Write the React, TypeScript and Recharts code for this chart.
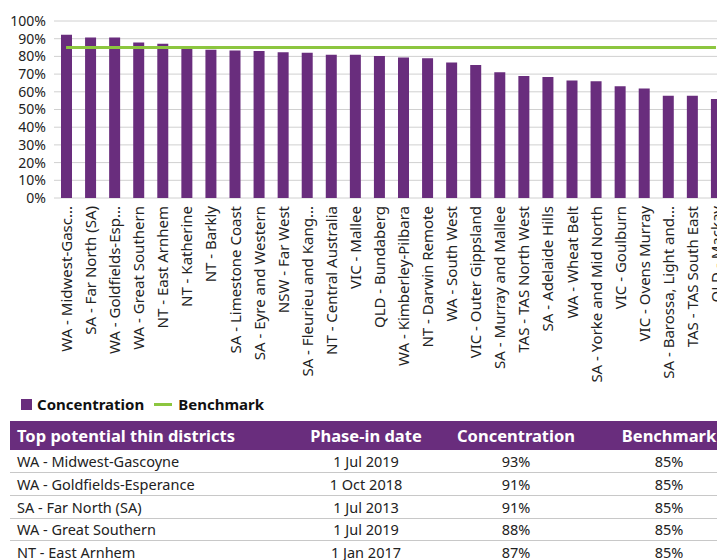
import React from 'react';
import { ComposedChart, Bar, Line, XAxis, YAxis, CartesianGrid } from 'recharts';

const categories = [
  'WA - Midwest-Gasc...',
  'SA - Far North (SA)',
  'WA - Goldfields-Esp...',
  'WA - Great Southern',
  'NT - East Arnhem',
  'NT - Katherine',
  'NT - Barkly',
  'SA - Limestone Coast',
  'SA - Eyre and Western',
  'NSW - Far West',
  'SA - Fleurieu and Kang...',
  'NT - Central Australia',
  'VIC - Mallee',
  'QLD - Bundaberg',
  'WA - Kimberley-Pilbara',
  'NT - Darwin Remote',
  'WA - South West',
  'VIC - Outer Gippsland',
  'SA - Murray and Mallee',
  'TAS - TAS North West',
  'SA - Adelaide Hills',
  'WA - Wheat Belt',
  'SA - Yorke and Mid North',
  'VIC - Goulburn',
  'VIC - Ovens Murray',
  'SA - Barossa, Light and...',
  'TAS - TAS South East',
  'QLD - Mackay',
];

const concentration = [
  92.3, 90.7, 90.7, 87.9, 87.2, 84.2, 83.8, 83.4, 83.0, 82.4, 82.1, 81.0, 81.0, 80.2,
  79.4, 78.9, 76.6, 75.1, 71.1, 68.9, 68.3, 66.4, 66.0, 63.2, 61.8, 57.8, 57.8, 55.9,
];

const benchmark = 85;

const yTicks = [0, 10, 20, 30, 40, 50, 60, 70, 80, 90, 100];

const tableHeaders = ['Top potential thin districts', 'Phase-in date', 'Concentration', 'Benchmark'];
const tableDistricts = [
  'WA - Midwest-Gascoyne',
  'WA - Goldfields-Esperance',
  'SA - Far North (SA)',
  'WA - Great Southern',
  'NT - East Arnhem',
];
const tableDates = ['1 Jul 2019', '1 Oct 2018', '1 Jul 2013', '1 Jul 2019', '1 Jan 2017'];
const tableConcentration = ['93%', '91%', '91%', '88%', '87%'];
const tableBenchmark = ['85%', '85%', '85%', '85%', '85%'];

const data = categories.map((name, i) => ({
  name,
  concentration: concentration[i],
  benchmark,
}));

const PURPLE = '#692d7d';
const GREEN = '#8cc63f';
const FONT = '"Noto Sans", sans-serif';

const XTick = (props: any) => {
  const { x, y, payload } = props;
  return (
    <text
      x={x}
      y={y}
      transform={`rotate(-90 ${x} ${y})`}
      textAnchor="end"
      dominantBaseline="central"
      fill="#222"
      fontSize={15}
      fontFamily={FONT}
    >
      {payload.value}
    </text>
  );
};

const colW = [284, 144, 156, 133];
const colAlign: ('left' | 'center')[] = ['left', 'center', 'center', 'center'];
const colPadL = [7, 0, 0, 17];

const cellStyle = (i: number): React.CSSProperties => ({
  width: colW[i],
  textAlign: colAlign[i],
  paddingTop: 0,
  paddingBottom: 0,
  paddingRight: 0,
  paddingLeft: colPadL[i],
  boxSizing: 'border-box',
});

export default function App() {
  return (
    <div style={{ width: 717, overflow: 'hidden', fontFamily: FONT }}>
      <ComposedChart
        width={720}
        height={385}
        data={data}
        margin={{ top: 13, right: 0, left: 0, bottom: 0 }}
      >
        <CartesianGrid vertical={false} stroke="#d0d0d0" />
        <XAxis
          dataKey="name"
          interval={0}
          height={195}
          axisLine={false}
          tickLine={false}
          tick={<XTick />}
        />
        <YAxis
          width={46}
          domain={[0, 100]}
          ticks={yTicks}
          interval={0}
          axisLine={false}
          tickLine={false}
          tickFormatter={(v: number) => `${v}%`}
          tick={{ fill: '#222', fontSize: 14, fontFamily: FONT }}
        />
        <Bar dataKey="concentration" fill={PURPLE} barSize={11} isAnimationActive={false} />
        <Line
          dataKey="benchmark"
          stroke={GREEN}
          strokeWidth={3}
          dot={false}
          activeDot={false}
          isAnimationActive={false}
        />
      </ComposedChart>
      <div style={{ height: 22, display: 'flex', alignItems: 'center', fontWeight: 700, fontSize: 15, color: '#111' }}>
        <span style={{ display: 'inline-block', width: 11, height: 11, background: PURPLE, marginLeft: 13, marginRight: 5 }} />
        <span>Concentration</span>
        <span style={{ display: 'inline-block', width: 18, height: 3, background: GREEN, marginLeft: 10, marginRight: 6 }} />
        <span>Benchmark</span>
      </div>
      <table style={{ marginTop: 6, marginLeft: 2, width: 715, borderCollapse: 'collapse', tableLayout: 'fixed' }}>
        <thead>
          <tr style={{ background: PURPLE, color: '#fff', height: 29 }}>
            {tableHeaders.map((h, i) => (
              <th key={h} style={{ ...cellStyle(i), fontSize: 16.5, fontWeight: 700 }}>
                {h}
              </th>
            ))}
          </tr>
        </thead>
        <tbody>
          {tableDistricts.map((d, r) => (
            <tr key={d} style={{ height: 22.7, borderTop: r > 0 ? '1px solid #c8c8c8' : 'none' }}>
              {[d, tableDates[r], tableConcentration[r], tableBenchmark[r]].map((c, i) => (
                <td key={i} style={{ ...cellStyle(i), fontSize: 14.5, color: '#222', lineHeight: '18px' }}>
                  {c}
                </td>
              ))}
            </tr>
          ))}
        </tbody>
      </table>
    </div>
  );
}
